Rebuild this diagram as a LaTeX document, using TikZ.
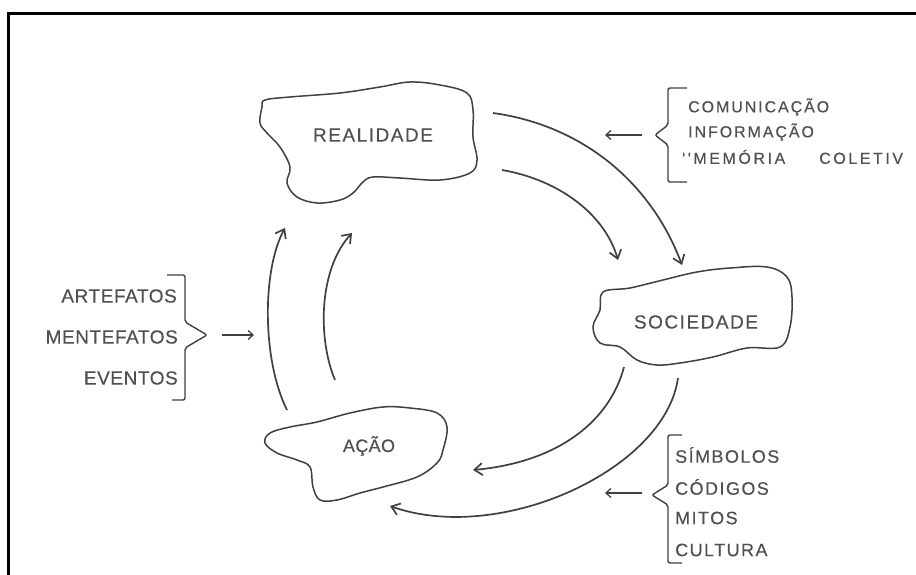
\documentclass[tikz,border=0pt]{standalone}
\usepackage{fontspec}
\setmainfont[Ligatures=TeXOff,FakeBold=0.3]{Liberation Sans}
\usetikzlibrary{arrows.meta}
\definecolor{ink}{HTML}{404040}
\definecolor{txt}{HTML}{505050}
\begin{document}
\begin{tikzpicture}[x=1pt,y=-1pt,
  line/.style={draw=ink,line width=1.7pt},
  arr/.style={line,-{Straight Barb[length=8pt,width=12pt,line width=1.7pt]}},
  smallarr/.style={draw=ink,line width=1.3pt,-{Straight Barb[length=5pt,width=9pt,line width=1.3pt]}},
  brace/.style={draw=ink,line width=1.4pt,rounded corners=2pt},
  blob/.style={draw=ink,line width=1.5pt},
  biglbl/.style={text=txt,inner sep=0pt,font=\fontsize{19}{19}\selectfont\addfontfeature{LetterSpace=8}},
  leftlbl/.style={text=txt,inner sep=0pt,anchor=east,font=\fontsize{19}{19}\selectfont\addfontfeature{LetterSpace=3}},
  botlbl/.style={text=txt,inner sep=0pt,anchor=west,font=\fontsize{18}{18}\selectfont\addfontfeature{LetterSpace=8}},
  toplbl/.style={text=txt,inner sep=0pt,anchor=west,font=\fontsize{16}{16}\selectfont\addfontfeature{LetterSpace=12}}
]
\useasboundingbox (0,0) rectangle (916,575);
\fill[white] (0,0) rectangle (916,575);
\draw[line width=3pt] (8,575) -- (8,13.5) -- (916,13.5);

% blobs
\draw[blob] plot[smooth cycle,tension=0.6] coordinates {
 (265,100) (290,97) (340,93) (380,87) (410,82) (440,85) (467,93) (473,110) (473,137)
 (477,160) (470,173) (440,180) (400,178) (373,177) (363,182) (353,193) (340,200)
 (317,203) (297,197) (287,183) (290,167) (280,147) (267,133) (260,123) (262,107)};
\draw[blob] plot[smooth cycle,tension=0.6] coordinates {
 (603,292) (630,288) (663,280) (697,272) (730,268) (767,267) (787,277) (792,297)
 (790,327) (780,347) (747,348) (713,357) (680,363) (657,365) (637,360) (620,347)
 (600,343) (593,327) (600,310)};
\draw[blob] plot[smooth cycle,tension=0.6] coordinates {
 (270,433) (290,427) (317,422) (350,413) (383,407) (410,408) (437,413) (447,427)
 (443,450) (437,463) (417,477) (383,487) (360,493) (337,500) (320,500) (313,487)
 (310,467) (297,460) (277,453) (265,443)};

\node[biglbl] (real) at (373,135) {REALIDADE};
\node[biglbl] (soc) at (696,322) {SOCIEDADE};
\node[biglbl,font=\fontsize{18}{18}\selectfont\addfontfeature{LetterSpace=2}] (acao) at (369,446) {AÇÃO};

% circulation arrows
\coordinate (a1s) at (493,113); \coordinate (a1e) at (682,265);
\coordinate (a2s) at (502,170); \coordinate (a2e) at (618,260);
\coordinate (b1s) at (624,367); \coordinate (b1e) at (473,470);
\coordinate (b2s) at (678,378); \coordinate (b2e) at (390,506);
\coordinate (c1s) at (287,410); \coordinate (c1e) at (285,228);
\coordinate (c2s) at (335,380); \coordinate (c2e) at (352,233);
\draw[arr] (a1s) .. controls (580,125) and (650,180) .. (a1e);
\draw[arr] (a2s) .. controls (560,180) and (605,215) .. (a2e);
\draw[arr] (b1s) .. controls (610,420) and (560,462) .. (b1e);
\draw[arr] (b2s) .. controls (665,470) and (500,545) .. (b2e);
\draw[arr] (c1s) .. controls (262,360) and (262,270) .. (c1e);
\draw[arr] (c2s) .. controls (318,340) and (318,270) .. (c2e);

% left group
\node[leftlbl] (art) at (177,296) {ARTEFATOS};
\node[leftlbl] (men) at (178,337) {MENTEFATOS};
\node[leftlbl] (eve) at (178,378) {EVENTOS};
\draw[brace] (167,275) -- (185,275) -- (185,322) -- (207,335) -- (185,348) -- (185,400) -- (172,400);
\coordinate (l1s) at (222,335); \coordinate (l1e) at (254,335);
\draw[smallarr] (l1s) -- (l1e);

% top right group
\node[toplbl] (com) at (688,107) {COMUNICAÇÃO};
\node[toplbl] (inf) at (688,132) {INFORMAÇÃO};
\node[toplbl,font=\fontsize{16}{16}\selectfont\addfontfeature{LetterSpace=16}] (mem) at (682,157) {''MEMÓRIA\hspace{34pt}COLETIV};
\draw[brace] (687,88) -- (668,88) -- (668,125) -- (655,135) -- (668,145) -- (668,182) -- (687,182);
\coordinate (t1s) at (642,135); \coordinate (t1e) at (605,135);
\draw[smallarr] (t1s) -- (t1e);

% bottom right group
\node[botlbl] (sim) at (675,455) {SÍMBOLOS};
\node[botlbl] (cod) at (675,487) {CÓDIGOS};
\node[botlbl] (mit) at (675,518) {MITOS};
\node[botlbl] (cul) at (675,550) {CULTURA};
\draw[brace] (682,435) -- (668,435) -- (668,485) -- (652,495) -- (668,505) -- (668,563) -- (682,563);
\coordinate (s1s) at (642,493); \coordinate (s1e) at (605,493);
\draw[smallarr] (s1s) -- (s1e);
\end{tikzpicture}
\end{document}
